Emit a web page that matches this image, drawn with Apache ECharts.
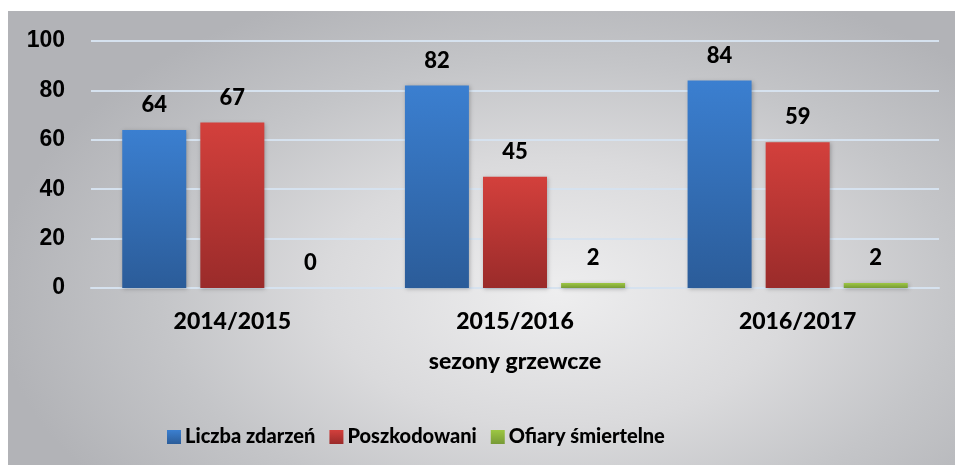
<!DOCTYPE html>
<html>
<head>
<meta charset="utf-8">
<script src="https://cdn.jsdelivr.net/npm/echarts@6/dist/echarts.min.js"></script>
<style>
  html, body { margin: 0; padding: 0; background: #fff; }
  #wrap {
    position: absolute; left: 8px; top: 11px; width: 947px; height: 454px;
    background: radial-gradient(ellipse 70% 85% at 58% 62%, #eeeeef 0%, #dadadc 35%, #c4c5c8 60%, #b2b3b7 85%);
  }
  #chart { width: 947px; height: 454px; }
</style>
</head>
<body>
<div id="wrap"><div id="chart"></div></div>
<script>
// sezony grzewcze
const categories = ["2014/2015", "2015/2016", "2016/2017"];
const liczbaZdarzen = [64, 82, 84];
const poszkodowani = [67, 45, 59];
const ofiarySmiertelne = [0, 2, 2];
const seriesNames = ["Liczba zdarzeń", "Poszkodowani", "Ofiary śmiertelne"];

const myChart = echarts.init(document.getElementById("chart"));
const FONT = "Lato";

const grad = (top, bottom) =>
  new echarts.graphic.LinearGradient(0, 0, 0, 1, [
    { offset: 0, color: top },
    { offset: 1, color: bottom },
  ]);
const barColors = [
  grad("#3b7fd0", "#2b5c99"),
  grad("#d3403c", "#9a2b2a"),
  grad("#9dc743", "#779a36"),
];

const mkSeries = (name, data, idx) => ({
  name: name,
  type: "bar",
  data: data,
  barWidth: 64,
  barGap: "22%",
  itemStyle: {
    color: barColors[idx],
    shadowColor: "rgba(0,0,0,0.25)",
    shadowBlur: 4,
    shadowOffsetX: 1,
    shadowOffsetY: 1,
  },
  label: {
    show: true,
    position: "top",
    distance: 14,
    color: "#000",
    fontFamily: FONT,
    fontWeight: 900,
    fontSize: 22,
  },
});

const option = {
  textStyle: { fontFamily: FONT },
  animation: false,
  grid: { left: 83, right: 16, top: 30, bottom: 177 },
  legend: {
    data: seriesNames.map((n, i) => ({
      name: n,
      itemStyle: { color: barColors[i], shadowBlur: 0 },
    })),
    left: 154,
    top: 411,
    itemWidth: 14,
    itemHeight: 14,
    itemGap: 14,
    icon: "rect",
    textStyle: {
      color: "#000",
      fontFamily: FONT,
      fontWeight: 900,
      fontSize: 20,
      padding: [0, 0, 0, -1],
    },
  },
  xAxis: {
    type: "category",
    data: categories,
    name: "sezony grzewcze",
    nameLocation: "middle",
    nameGap: 62,
    nameTextStyle: { color: "#000", fontFamily: FONT, fontWeight: 900, fontSize: 23 },
    axisLine: { lineStyle: { color: "#d6e2ef", width: 2 } },
    axisTick: { show: false },
    axisLabel: {
      color: "#000",
      fontFamily: FONT,
      fontWeight: 900,
      fontSize: 23,
      margin: 22,
    },
  },
  yAxis: {
    type: "value",
    min: 0,
    max: 100,
    interval: 20,
    axisLine: { show: false },
    axisTick: { show: false },
    axisLabel: {
      color: "#000",
      fontFamily: "Liberation Sans",
      fontWeight: "bold",
      fontSize: 23,
      margin: 26,
    },
    splitLine: { lineStyle: { color: "#d6e2ef", width: 2 } },
  },
  series: [
    mkSeries(seriesNames[0], liczbaZdarzen, 0),
    mkSeries(seriesNames[1], poszkodowani, 1),
    mkSeries(seriesNames[2], ofiarySmiertelne, 2),
  ],
};
myChart.setOption(option);
</script>
</body>
</html>
